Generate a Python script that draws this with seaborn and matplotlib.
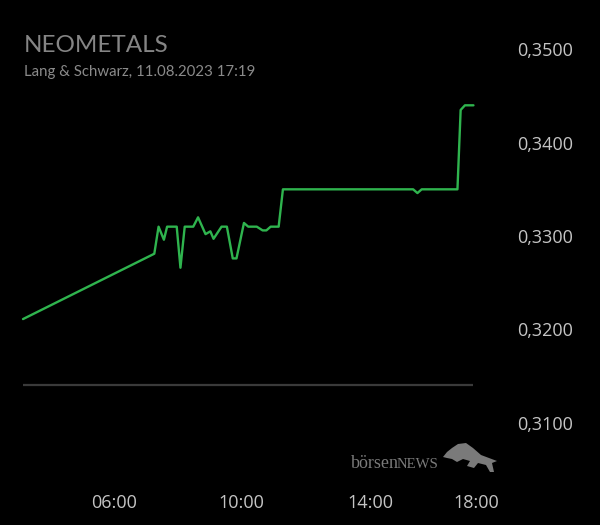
import numpy as np
import pandas as pd
import matplotlib
matplotlib.use("Agg")
import matplotlib.pyplot as plt
from matplotlib.patches import Polygon
import seaborn as sns

# Kursverlauf (Lang & Schwarz), Zeit als HH:MM
times = ["03:10", "07:16", "07:24", "07:34", "07:40", "07:58", "08:05", "08:13",
         "08:29", "08:38", "08:52", "09:01", "09:07", "09:22", "09:32", "09:43",
         "09:50", "10:04", "10:12", "10:28", "10:39", "10:46", "10:54", "11:09",
         "11:17", "15:21", "15:29", "15:37", "16:44", "16:50", "16:58", "17:14"]
prices = [0.3211, 0.3281, 0.3310, 0.3296, 0.3310, 0.3310, 0.3266, 0.3310,
          0.3310, 0.3320, 0.3302, 0.3305, 0.3297, 0.3310, 0.3310, 0.3276,
          0.3276, 0.3314, 0.3310, 0.3310, 0.3306, 0.3306, 0.3310, 0.3310,
          0.3350, 0.3350, 0.3346, 0.3350, 0.3350, 0.3435, 0.3440, 0.3440]
ref_level = 0.3140

y_ticks = [0.31, 0.32, 0.33, 0.34, 0.35]
y_labels = ["0,3100", "0,3200", "0,3300", "0,3400", "0,3500"]
x_ticks = ["06:00", "10:00", "14:00", "17:20"]
x_labels = ["06:00", "10:00", "14:00", "18:00"]

title = "NEOMETALS"
subtitle = "Lang & Schwarz, 11.08.2023 17:19"


def to_hours(t):
    h, m = t.split(":")
    return int(h) + int(m) / 60


df = pd.DataFrame({"hour": [to_hours(t) for t in times], "price": prices})

sns.set_theme(style="dark")
plt.rcParams.update({
    "figure.facecolor": "black",
    "axes.facecolor": "black",
    "axes.grid": False,
    "savefig.facecolor": "black",
})
plt.rcParams["font.family"] = ["Open Sans", "DejaVu Sans"]

fig = plt.figure(figsize=(6, 5.25), dpi=100)
W, H = 600, 525
x0, x1 = df["hour"].iloc[0], 17.5
ax_left, ax_right = 23, 482
ax_top, ax_bot = 49.3, 422.7
ax = fig.add_axes([ax_left / W, 1 - ax_bot / H, (ax_right - ax_left) / W, (ax_bot - ax_top) / H])

sns.lineplot(data=df, x="hour", y="price", ax=ax, color="#2fb44e", linewidth=1.7,
             clip_on=False, legend=False)
ax.hlines(ref_level, df["hour"].iloc[0], df["hour"].iloc[-1], color="#3a3a3a", linewidth=1.6)

ax.set_xlim(x0, x1)
ax.set_ylim(0.31, 0.35)
for s in ax.spines.values():
    s.set_visible(False)

ax.yaxis.tick_right()
ax.set_yticks(y_ticks)
ax.set_yticklabels(y_labels)
ax.set_xticks([to_hours(t) for t in x_ticks])
ax.set_xticklabels(x_labels)
ax.tick_params(axis="y", length=0, pad=25, labelsize=13, labelcolor="#c4c4c4")
ax.tick_params(axis="x", length=0, pad=51, labelsize=13, labelcolor="#c4c4c4")
ax.set_xlabel("")
ax.set_ylabel("")

fig.text(24 / W, 1 - 45.7 / H, title, family=["Lato", "DejaVu Sans"], fontsize=17.5,
         color="#858585", va="center", ha="left")
fig.text(24 / W, 1 - 71.7 / H, subtitle, family=["Lato", "DejaVu Sans"], fontsize=10.8,
         color="#8a8a8a", va="center", ha="left")

# Logo
fig.text(351 / W, 1 - 468 / H, "börsen", family=["Liberation Serif", "DejaVu Serif"],
         fontsize=13, color="#7a7a7a", va="baseline", ha="left")
fig.text(397 / W, 1 - 468 / H, "NEWS", family=["Liberation Serif", "DejaVu Serif"],
         fontsize=10.6, color="#7a7a7a", va="baseline", ha="left")
bull = [(443, 457), (447, 452), (452, 448), (458, 444), (466, 443), (473, 448),
        (481, 455), (489, 458), (497, 461), (492, 463), (494, 472), (490, 472),
        (486, 465), (478, 463), (474, 468), (467, 466), (470, 461), (463, 459),
        (457, 462), (452, 459), (447, 458)]
fig.patches.append(Polygon([(x / W, 1 - y / H) for x, y in bull], closed=True,
                           transform=fig.transFigure, facecolor="#7a7a7a",
                           edgecolor="none"))

fig.savefig("out.png", dpi=100, facecolor="black")
